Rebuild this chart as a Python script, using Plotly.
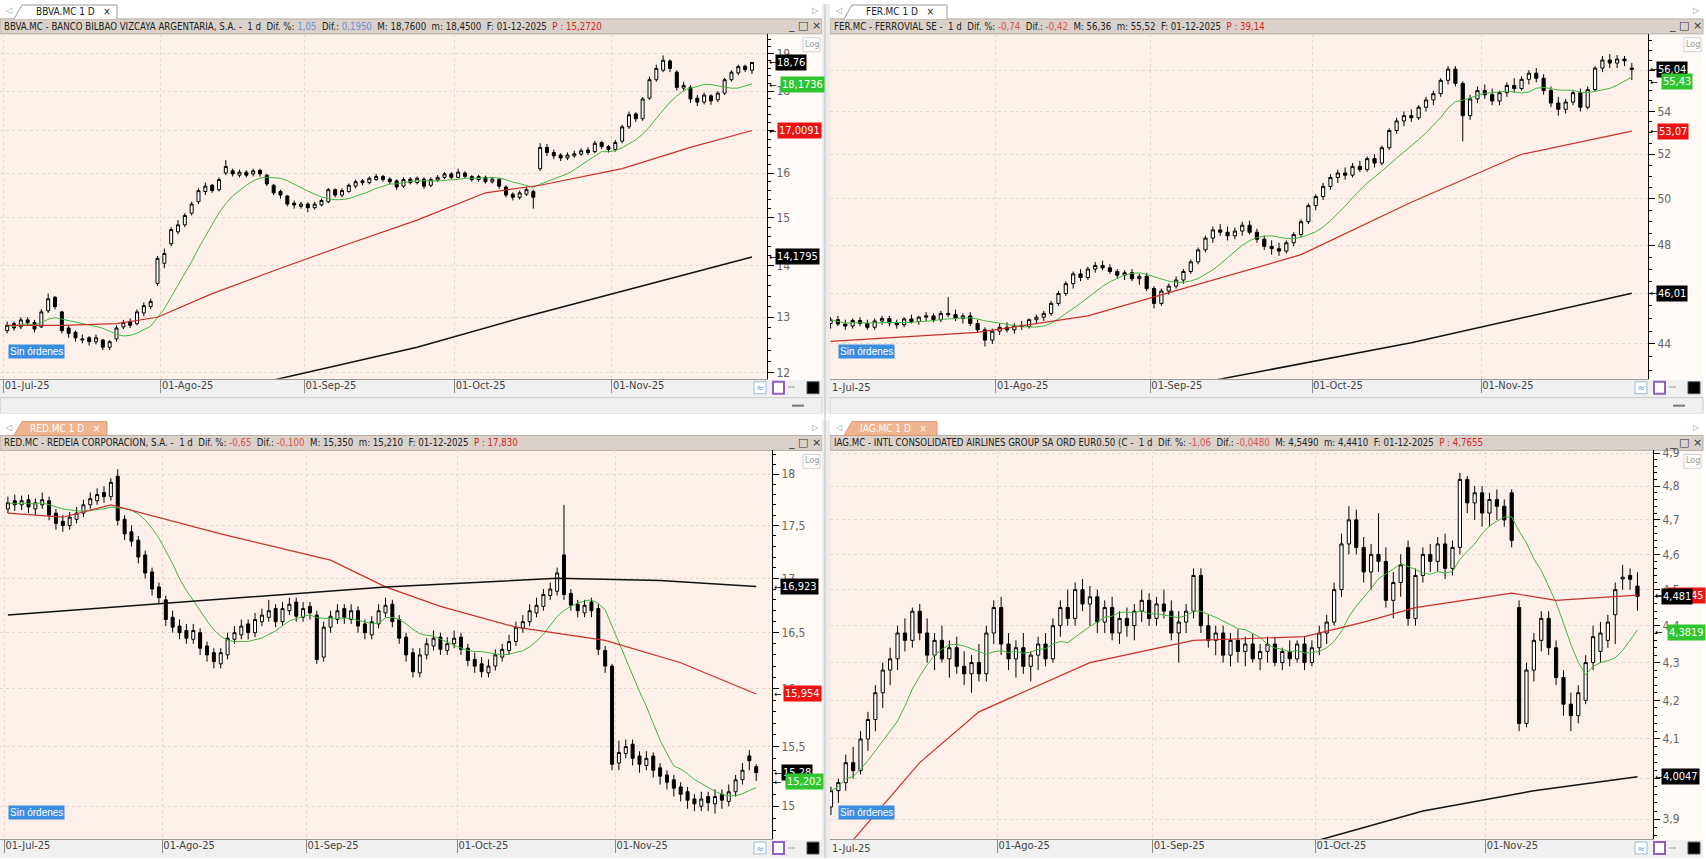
import math
import pandas as pd
import plotly.graph_objects as go

W, H = 1706, 859

# ---------------- data ----------------
trade_dates = pd.bdate_range("2025-07-01", "2025-12-01")
month_labels = ["01-Jul-25", "01-Ago-25", "01-Sep-25", "01-Oct-25", "01-Nov-25"]

bbva_open = [12.75,12.88,12.82,12.95,12.90,12.82,13.12,13.38,13.10,12.80,
             12.72,12.58,12.62,12.55,12.58,12.45,12.60,12.82,12.92,12.88,
             13.08,13.20,13.65,14.05,14.45,14.70,14.85,15.10,15.35,15.58,
             15.72,15.62,16.00,16.05,15.95,16.02,15.98,16.06,15.95,15.72,
             15.58,15.48,15.32,15.25,15.30,15.22,15.28,15.35,15.62,15.50,
             15.58,15.70,15.82,15.78,15.85,15.92,15.86,15.82,15.70,15.86,
             15.78,15.86,15.72,15.84,15.90,15.98,15.90,16.00,15.92,15.85,
             15.90,15.80,15.85,15.68,15.52,15.45,15.52,15.58,16.10,16.60,
             16.48,16.42,16.35,16.40,16.44,16.54,16.50,16.72,16.62,16.55,
             16.75,17.10,17.42,17.30,17.82,18.30,18.55,18.80,18.50,18.08,
             18.10,17.82,17.72,17.88,17.78,17.95,18.30,18.48,18.66,18.55]
bbva_high = [12.92,12.92,13.00,13.00,12.95,13.15,13.45,13.40,13.12,12.85,
             12.75,12.68,12.65,12.68,12.60,12.58,12.85,12.95,12.98,13.15,
             13.28,13.35,14.20,14.35,14.80,14.95,15.10,15.35,15.65,15.78,
             15.75,15.90,16.30,16.10,16.08,16.06,16.10,16.10,15.98,15.75,
             15.62,15.50,15.38,15.35,15.34,15.35,15.42,15.66,15.65,15.65,
             15.76,15.85,15.86,15.92,15.98,15.96,15.90,15.85,15.90,15.90,
             15.92,15.90,15.90,15.95,16.02,16.02,16.10,16.04,15.95,15.96,
             15.94,15.90,15.88,15.72,15.56,15.60,15.68,15.62,16.70,16.68,
             16.55,16.46,16.48,16.52,16.58,16.60,16.76,16.75,16.66,16.78,
             17.15,17.48,17.46,17.85,18.38,18.70,18.95,18.85,18.55,18.25,
             18.15,17.90,17.96,17.92,18.00,18.35,18.55,18.70,18.70,18.76]
bbva_low = [12.70,12.75,12.78,12.85,12.72,12.80,13.08,13.15,12.70,12.62,
            12.55,12.52,12.48,12.50,12.40,12.40,12.55,12.78,12.80,12.85,
            13.02,13.15,13.60,13.95,14.40,14.65,14.80,15.05,15.30,15.50,
            15.55,15.58,15.95,15.92,15.90,15.90,15.92,15.92,15.70,15.50,
            15.42,15.25,15.20,15.20,15.12,15.18,15.25,15.32,15.45,15.45,
            15.55,15.65,15.72,15.74,15.82,15.80,15.75,15.62,15.66,15.74,
            15.74,15.64,15.68,15.80,15.86,15.86,15.88,15.88,15.80,15.80,
            15.76,15.76,15.64,15.45,15.38,15.40,15.48,15.20,16.05,16.40,
            16.32,16.28,16.30,16.36,16.40,16.42,16.46,16.56,16.48,16.50,
            16.70,17.05,17.22,17.25,17.78,18.25,18.50,18.50,18.02,18.00,
            17.70,17.62,17.66,17.65,17.72,17.90,18.25,18.42,18.50,18.45]
bbva_close = [12.85,12.80,12.95,12.90,12.78,13.10,13.35,13.20,12.75,12.70,
              12.62,12.60,12.55,12.62,12.45,12.55,12.80,12.90,12.85,13.10,
              13.22,13.30,14.15,14.25,14.75,14.85,15.05,15.30,15.60,15.70,
              15.60,15.85,16.15,15.98,16.02,15.95,16.05,15.98,15.75,15.55,
              15.50,15.30,15.28,15.30,15.22,15.30,15.38,15.62,15.50,15.60,
              15.72,15.80,15.78,15.88,15.92,15.85,15.80,15.68,15.85,15.78,
              15.88,15.70,15.85,15.90,15.98,15.90,16.02,15.92,15.85,15.92,
              15.80,15.86,15.70,15.50,15.45,15.55,15.62,15.45,16.60,16.48,
              16.40,16.35,16.42,16.45,16.52,16.48,16.70,16.62,16.55,16.72,
              17.10,17.40,17.30,17.80,18.30,18.60,18.82,18.60,18.10,18.15,
              17.80,17.72,17.90,17.75,17.95,18.30,18.50,18.65,18.57,18.76]
bbva_ma50_idx = [0, 8, 16, 22, 30, 40, 50, 60, 70, 78, 90, 100, 109]
bbva_ma50_val = [12.85, 12.85, 12.88, 13.0, 13.45, 13.95, 14.45, 14.95, 15.55, 15.72, 16.1, 16.6, 17.0091]
bbva_ma200_idx = [38, 60, 75, 90, 109]
bbva_ma200_val = [11.85, 12.45, 12.98, 13.5, 14.1795]

fer_open = [44.80,44.95,44.78,44.70,44.92,44.80,44.65,44.90,45.00,44.82,
            44.75,44.98,44.88,45.05,45.10,44.95,45.20,45.15,45.00,45.10,
            44.80,44.55,44.15,44.50,44.65,44.55,44.72,44.68,44.95,45.05,
            45.20,45.60,46.00,46.40,46.80,46.65,47.00,47.15,47.05,46.90,
            46.75,46.85,46.60,46.70,46.20,45.60,46.10,46.30,46.55,46.90,
            47.30,47.80,48.30,48.65,48.55,48.40,48.60,48.85,48.55,48.25,
            47.95,47.85,47.75,48.10,48.45,49.00,49.70,50.10,50.55,50.95,
            51.15,51.05,51.45,51.30,51.80,51.60,52.30,53.10,53.55,53.80,
            53.70,54.20,54.55,54.85,55.50,56.05,55.35,53.80,54.60,55.00,
            54.80,54.50,54.90,55.25,55.10,55.55,55.85,55.60,55.00,54.40,
            54.10,54.45,54.90,54.20,55.05,56.10,56.50,56.35,56.55,56.10]
fer_high = [45.05,45.10,44.95,45.00,45.05,44.95,45.00,45.10,45.10,44.95,
            45.05,45.15,45.10,45.25,45.20,45.30,45.85,45.35,45.20,45.25,
            44.95,44.65,44.60,44.80,44.85,44.80,44.90,45.00,45.15,45.30,
            45.70,46.10,46.50,46.90,47.00,47.10,47.30,47.35,47.20,47.00,
            46.95,47.00,46.80,46.85,46.30,46.20,46.40,46.70,47.00,47.40,
            47.90,48.40,48.80,48.90,48.80,48.75,49.00,49.05,48.70,48.40,
            48.20,48.10,48.20,48.55,49.10,49.80,50.20,50.70,51.10,51.30,
            51.40,51.60,51.70,51.90,52.00,52.40,53.20,53.70,54.00,54.10,
            54.30,54.70,55.00,55.60,56.20,56.20,55.45,54.80,55.20,55.30,
            55.10,55.00,55.40,55.60,55.70,56.00,56.10,55.80,55.20,54.70,
            54.60,55.00,55.10,55.20,56.20,56.70,56.80,56.75,56.70,56.36]
fer_low = [44.60,44.70,44.55,44.60,44.70,44.55,44.55,44.75,44.70,44.60,
           44.65,44.80,44.75,44.90,44.85,44.85,45.05,44.90,44.80,44.70,
           44.45,43.90,44.00,44.35,44.45,44.40,44.55,44.60,44.80,44.90,
           45.10,45.50,45.90,46.20,46.50,46.55,46.85,46.95,46.80,46.60,
           46.55,46.50,46.35,46.10,45.40,45.50,45.95,46.20,46.40,46.80,
           47.20,47.70,48.10,48.40,48.20,48.25,48.40,48.45,48.10,47.80,
           47.60,47.55,47.65,47.95,48.35,48.90,49.50,49.95,50.40,50.70,
           50.85,50.95,51.20,51.20,51.40,51.50,52.20,52.95,53.30,53.50,
           53.60,54.00,54.30,54.70,55.30,55.20,52.60,53.60,54.40,54.60,
           54.30,54.30,54.70,54.90,55.00,55.30,55.40,54.80,54.20,53.80,
           53.90,54.30,54.00,54.10,54.95,55.90,56.10,56.10,56.20,55.52]
fer_close = [44.95,44.78,44.70,44.92,44.80,44.65,44.90,45.00,44.82,44.75,
             44.98,44.88,45.05,45.10,44.95,45.20,45.15,45.00,45.10,44.80,
             44.55,44.15,44.50,44.65,44.55,44.72,44.68,44.95,45.05,45.20,
             45.60,46.00,46.40,46.80,46.65,47.00,47.15,47.05,46.90,46.75,
             46.85,46.60,46.70,46.20,45.60,46.10,46.30,46.55,46.90,47.30,
             47.80,48.30,48.65,48.55,48.40,48.60,48.85,48.55,48.25,47.95,
             47.85,47.75,48.10,48.45,49.00,49.70,50.10,50.55,50.95,51.15,
             51.05,51.45,51.30,51.80,51.60,52.30,53.10,53.55,53.80,53.70,
             54.20,54.55,54.85,55.50,56.05,55.35,53.80,54.60,55.00,54.80,
             54.50,54.90,55.25,55.10,55.55,55.85,55.60,55.00,54.40,54.10,
             54.45,54.90,54.20,55.05,56.10,56.50,56.35,56.55,56.46,56.04]
fer_ma50_idx = [0, 20, 35, 49, 64, 79, 94, 109]
fer_ma50_val = [44.1, 44.45, 45.1, 46.3, 47.6, 49.85, 52.0, 53.07]
fer_ma200_idx = [50, 79, 109]
fer_ma200_val = [42.5, 44.05, 46.01]

red_open = [17.66,17.74,17.70,17.75,17.66,17.70,17.74,17.62,17.54,17.50,
            17.56,17.62,17.70,17.74,17.82,17.78,17.98,17.56,17.44,17.36,
            17.22,17.06,16.92,16.80,16.64,16.56,16.52,16.44,16.50,16.38,
            16.32,16.22,16.30,16.44,16.48,16.58,16.50,16.60,16.64,16.72,
            16.60,16.70,16.78,16.64,16.74,16.66,16.28,16.55,16.62,16.72,
            16.62,16.70,16.58,16.48,16.58,16.68,16.76,16.62,16.46,16.32,
            16.14,16.30,16.38,16.46,16.34,16.40,16.46,16.36,16.26,16.22,
            16.14,16.20,16.28,16.34,16.42,16.54,16.60,16.68,16.74,16.84,
            16.88,17.22,16.86,16.76,16.68,16.78,16.72,16.34,16.20,15.36,
            15.44,15.52,15.42,15.34,15.42,15.32,15.26,15.22,15.16,15.12,
            15.06,15.00,15.08,15.02,15.10,15.04,15.12,15.22,15.42,15.33]
red_high = [17.78,17.80,17.79,17.80,17.76,17.82,17.78,17.66,17.60,17.63,
            17.68,17.75,17.82,17.86,17.88,17.96,18.05,17.60,17.50,17.40,
            17.26,17.10,16.96,16.84,16.70,16.62,16.58,16.58,16.54,16.42,
            16.36,16.36,16.50,16.56,16.62,16.62,16.68,16.72,16.80,16.76,
            16.78,16.82,16.82,16.78,16.78,16.70,16.60,16.70,16.76,16.76,
            16.76,16.74,16.62,16.65,16.76,16.82,16.80,16.66,16.50,16.36,
            16.36,16.45,16.52,16.50,16.46,16.52,16.50,16.40,16.32,16.28,
            16.26,16.35,16.40,16.48,16.60,16.66,16.76,16.82,16.90,16.96,
            17.10,17.70,16.90,16.80,16.80,16.82,16.76,16.38,16.22,15.55,
            15.56,15.56,15.46,15.46,15.45,15.36,15.30,15.26,15.20,15.16,
            15.10,15.12,15.12,15.14,15.14,15.18,15.26,15.36,15.47,15.35]
red_low = [17.62,17.64,17.65,17.62,17.60,17.66,17.55,17.46,17.44,17.46,
           17.52,17.58,17.66,17.70,17.72,17.74,17.50,17.36,17.30,17.14,
           17.00,16.84,16.76,16.56,16.50,16.44,16.40,16.40,16.30,16.24,
           16.18,16.18,16.26,16.40,16.44,16.44,16.46,16.56,16.60,16.55,
           16.56,16.66,16.60,16.60,16.62,16.22,16.24,16.50,16.58,16.58,
           16.58,16.50,16.44,16.44,16.54,16.64,16.55,16.40,16.24,16.10,
           16.10,16.26,16.34,16.30,16.30,16.36,16.30,16.20,16.14,16.10,
           16.10,16.16,16.24,16.30,16.38,16.50,16.56,16.64,16.70,16.80,
           16.84,16.80,16.70,16.64,16.64,16.64,16.30,16.14,15.30,15.30,
           15.40,15.34,15.28,15.30,15.24,15.18,15.14,15.08,15.04,14.98,
           14.96,14.96,14.96,14.94,14.98,15.00,15.08,15.18,15.30,15.21]
red_close = [17.72,17.70,17.74,17.68,17.72,17.75,17.60,17.52,17.50,17.58,
             17.62,17.70,17.76,17.80,17.78,17.92,17.55,17.42,17.35,17.20,
             17.05,16.90,16.82,16.62,16.55,16.50,16.45,16.52,16.36,16.30,
             16.24,16.32,16.45,16.50,16.56,16.50,16.62,16.66,16.70,16.60,
             16.72,16.76,16.65,16.72,16.68,16.26,16.55,16.65,16.70,16.64,
             16.70,16.56,16.50,16.60,16.70,16.75,16.60,16.45,16.30,16.15,
             16.30,16.40,16.45,16.35,16.40,16.45,16.35,16.25,16.20,16.15,
             16.20,16.30,16.35,16.42,16.55,16.60,16.70,16.75,16.85,16.90,
             17.05,16.85,16.75,16.70,16.75,16.70,16.35,16.20,15.35,15.45,
             15.50,15.40,15.35,15.40,15.30,15.25,15.20,15.15,15.10,15.05,
             15.02,15.06,15.03,15.08,15.05,15.12,15.22,15.30,15.38,15.28]
red_ma50_idx = [0, 8, 15, 31, 47, 55, 63, 74, 87, 98, 109]
red_ma50_val = [17.62, 17.58, 17.7, 17.42, 17.17, 16.92, 16.74, 16.55, 16.43, 16.23, 15.954]
red_ma200_idx = [0, 30, 55, 80, 95, 109]
red_ma200_val = [16.66, 16.8, 16.92, 17.0, 16.98, 16.923]

iag_open = [3.93,3.97,3.99,4.04,4.02,4.10,4.15,4.22,4.28,4.31,
            4.38,4.36,4.44,4.38,4.32,4.36,4.31,4.34,4.29,4.27,
            4.30,4.27,4.38,4.45,4.35,4.31,4.34,4.29,4.32,4.35,
            4.31,4.40,4.45,4.42,4.50,4.46,4.48,4.41,4.45,4.38,
            4.42,4.40,4.44,4.47,4.42,4.46,4.44,4.38,4.41,4.44,
            4.54,4.40,4.36,4.38,4.32,4.36,4.33,4.35,4.31,4.33,
            4.35,4.30,4.33,4.31,4.35,4.30,4.34,4.38,4.41,4.50,
            4.63,4.70,4.62,4.55,4.60,4.58,4.47,4.52,4.62,4.42,
            4.54,4.60,4.58,4.63,4.56,4.62,4.82,4.75,4.78,4.72,
            4.76,4.74,4.78,4.45,4.14,4.28,4.36,4.42,4.34,4.26,
            4.19,4.16,4.20,4.30,4.33,4.36,4.43,4.53,4.54,4.51]
iag_high = [3.98,4.00,4.06,4.08,4.12,4.17,4.24,4.30,4.34,4.40,
            4.42,4.45,4.46,4.42,4.38,4.40,4.36,4.37,4.33,4.32,
            4.35,4.40,4.47,4.48,4.38,4.36,4.38,4.33,4.37,4.38,
            4.42,4.47,4.50,4.52,4.53,4.51,4.50,4.47,4.48,4.44,
            4.45,4.46,4.50,4.49,4.48,4.50,4.47,4.44,4.46,4.56,
            4.56,4.43,4.40,4.40,4.38,4.39,4.37,4.38,4.35,4.37,
            4.37,4.34,4.36,4.36,4.37,4.36,4.40,4.43,4.52,4.66,
            4.74,4.73,4.65,4.63,4.72,4.62,4.55,4.60,4.64,4.56,
            4.62,4.63,4.65,4.66,4.64,4.84,4.83,4.80,4.80,4.78,
            4.79,4.76,4.79,4.47,4.30,4.38,4.44,4.44,4.36,4.28,
            4.22,4.24,4.32,4.40,4.41,4.43,4.52,4.57,4.56,4.549]
iag_low = [3.91,3.94,3.97,4.00,4.01,4.07,4.12,4.18,4.24,4.28,
           4.33,4.34,4.36,4.30,4.28,4.30,4.26,4.27,4.24,4.22,
           4.25,4.25,4.35,4.32,4.28,4.26,4.27,4.25,4.28,4.29,
           4.30,4.37,4.40,4.40,4.44,4.40,4.38,4.38,4.36,4.35,
           4.37,4.36,4.41,4.40,4.40,4.42,4.36,4.30,4.38,4.42,
           4.38,4.34,4.32,4.30,4.29,4.30,4.29,4.30,4.28,4.30,
           4.29,4.28,4.29,4.30,4.28,4.29,4.32,4.35,4.40,4.48,
           4.60,4.60,4.52,4.50,4.55,4.45,4.42,4.48,4.40,4.40,
           4.52,4.55,4.55,4.53,4.54,4.60,4.72,4.70,4.68,4.68,
           4.70,4.68,4.62,4.12,4.13,4.25,4.33,4.32,4.24,4.16,
           4.12,4.14,4.19,4.28,4.30,4.34,4.35,4.50,4.50,4.441]
iag_close = [3.97,3.99,4.04,4.02,4.10,4.15,4.22,4.28,4.31,4.38,
             4.36,4.44,4.38,4.32,4.36,4.31,4.34,4.29,4.27,4.30,
             4.27,4.38,4.45,4.35,4.31,4.34,4.29,4.32,4.35,4.31,
             4.40,4.45,4.42,4.50,4.46,4.48,4.41,4.45,4.38,4.42,
             4.40,4.44,4.47,4.42,4.46,4.44,4.38,4.41,4.44,4.54,
             4.40,4.36,4.38,4.32,4.36,4.33,4.35,4.31,4.33,4.35,
             4.30,4.33,4.31,4.35,4.30,4.34,4.38,4.41,4.50,4.63,
             4.70,4.62,4.55,4.60,4.58,4.47,4.52,4.57,4.42,4.54,
             4.60,4.58,4.63,4.56,4.62,4.82,4.75,4.78,4.72,4.76,
             4.74,4.70,4.64,4.14,4.28,4.36,4.42,4.34,4.26,4.19,
             4.16,4.22,4.30,4.37,4.38,4.41,4.50,4.535,4.529,4.481]
iag_ma50_idx = [0, 3, 12, 20, 35, 49, 64, 72, 79, 92, 98, 109]
iag_ma50_val = [3.80, 3.85, 4.04, 4.17, 4.30, 4.36, 4.37, 4.41, 4.45, 4.49, 4.47, 4.4845]
iag_ma200_idx = [64, 80, 95, 109]
iag_ma200_val = [3.84, 3.92, 3.97, 4.0047]

# ---------------- helpers ----------------
def px(x):
    return x / W

def py(y):
    return 1 - y / H

shapes, annotations = [], []
FONT = "Liberation Sans Narrow, DejaVu Sans Condensed, Arial Narrow, sans-serif"

def rect(x0, y0, x1, y1, fill, line=None, lw=1, layer="below"):
    shapes.append(dict(type="rect", xref="paper", yref="paper",
                       x0=px(x0), x1=px(x1), y0=py(y1), y1=py(y0),
                       fillcolor=fill, layer=layer,
                       line=dict(color=line if line else fill, width=lw if line else 0)))

def hline(x0, x1, y, color, lw=1):
    shapes.append(dict(type="line", xref="paper", yref="paper", x0=px(x0), x1=px(x1),
                       y0=py(y), y1=py(y), line=dict(color=color, width=lw), layer="above"))

def vline(x, y0, y1, color, lw=1):
    shapes.append(dict(type="line", xref="paper", yref="paper", x0=px(x), x1=px(x),
                       y0=py(y0), y1=py(y1), line=dict(color=color, width=lw), layer="above"))

def text(x, y, s, size=11, color="#222", xanchor="left", bg=None, font=FONT):
    a = dict(xref="paper", yref="paper", x=px(x), y=py(y), text=s, showarrow=False,
             xanchor=xanchor, yanchor="middle", font=dict(size=size, color=color, family=font))
    if bg:
        a["bgcolor"] = bg
    annotations.append(a)

# month ticks sit on the left edge of the first session of each month
month_idx = []
for m in [7, 8, 9, 10, 11]:
    month_idx.append(next(i for i, d in enumerate(trade_dates) if d.month == m) - 0.5)

panels = [
    dict(name="BBVA", o=bbva_open, h=bbva_high, l=bbva_low, c=bbva_close,
         m50=(bbva_ma50_idx, bbva_ma50_val), m200=(bbva_ma200_idx, bbva_ma200_val),
         box=(0, 30, 767, 377), ax_end=822, xr=[-1.05, 111.2], yr=(11.897, 19.55),
         major=[12, 13, 14, 15, 16, 17, 18, 19], minor_step=0.2,
         tab="BBVA.MC 1 D", tab_active=False,
         title=("BBVA.MC - BANCO BILBAO VIZCAYA ARGENTARIA, S.A. -&nbsp;&nbsp;1 d&nbsp;&nbsp;Dif. %: <span style='color:#6b8fd6'>1,05</span>&nbsp;&nbsp;"
                "Dif.: <span style='color:#6b8fd6'>0,1950</span>&nbsp;&nbsp;M: 18,7600&nbsp;&nbsp;m: 18,4500&nbsp;&nbsp;F: 01-12-2025&nbsp;&nbsp;"
                "<span style='color:#e02020'>P : 15,2720</span>"),
         labels=[("18,76", 18.76, "#000000", 775), ("18,1736", 18.1736, "#2ec52e", 780),
                 ("17,0091", 17.0091, "#ee1111", 777), ("14,1795", 14.1795, "#000000", 775)]),
    dict(name="FER", o=fer_open, h=fer_high, l=fer_low, c=fer_close,
         m50=(fer_ma50_idx, fer_ma50_val), m200=(fer_ma200_idx, fer_ma200_val),
         box=(830, 30, 1648, 377), ax_end=1703, xr=[-0.08, 111.2], yr=(42.67, 57.82),
         major=[44, 46, 48, 50, 52, 54, 56], minor_step=0.5,
         tab="FER.MC 1 D", tab_active=False,
         title=("FER.MC - FERROVIAL SE -&nbsp;&nbsp;1 d&nbsp;&nbsp;Dif. %: <span style='color:#e05050'>-0,74</span>&nbsp;&nbsp;"
                "Dif.: <span style='color:#e05050'>-0,42</span>&nbsp;&nbsp;M: 56,36&nbsp;&nbsp;m: 55,52&nbsp;&nbsp;F: 01-12-2025&nbsp;&nbsp;"
                "<span style='color:#e02020'>P : 39,14</span>"),
         labels=[("56,04", 56.04, "#000000", 1656), ("55,43", 55.43, "#2ec52e", 1661),
                 ("53,07", 53.07, "#ee1111", 1657), ("46,01", 46.01, "#000000", 1656)]),
    dict(name="RED", o=red_open, h=red_high, l=red_low, c=red_close,
         m50=(red_ma50_idx, red_ma50_val), m200=(red_ma200_idx, red_ma200_val),
         box=(0, 449, 772, 840), ax_end=822, xr=[-1.15, 111.3], yr=(14.732, 18.237),
         major=[15, 15.5, 16, 16.5, 17, 17.5, 18], minor_step=0.1,
         tab="RED.MC 1 D", tab_active=True,
         title=("RED.MC - REDEIA CORPORACION, S.A. -&nbsp;&nbsp;1 d&nbsp;&nbsp;Dif. %: <span style='color:#e05050'>-0,65</span>&nbsp;&nbsp;"
                "Dif.: <span style='color:#e05050'>-0,100</span>&nbsp;&nbsp;M: 15,350&nbsp;&nbsp;m: 15,210&nbsp;&nbsp;F: 01-12-2025&nbsp;&nbsp;"
                "<span style='color:#e02020'>P : 17,830</span>"),
         labels=[("16,923", 16.923, "#000000", 780), ("15,954", 15.954, "#ee1111", 783),
                 ("15,28", 15.28, "#000000", 781), ("15,202", 15.202, "#2ec52e", 785)]),
    dict(name="IAG", o=iag_open, h=iag_high, l=iag_low, c=iag_close,
         m50=(iag_ma50_idx, iag_ma50_val), m200=(iag_ma200_idx, iag_ma200_val),
         box=(830, 449, 1653, 840), ax_end=1703, xr=[-0.13, 111.1], yr=(3.852, 4.908),
         major=[3.9, 4.0, 4.1, 4.2, 4.3, 4.4, 4.5, 4.6, 4.7, 4.8, 4.9], minor_step=0.02,
         tab="IAG.MC 1 D", tab_active=True,
         title=("IAG.MC - INTL CONSOLIDATED AIRLINES GROUP SA ORD EUR0.50 (C -&nbsp;&nbsp;1 d&nbsp;&nbsp;Dif. %: <span style='color:#e05050'>-1,06</span>&nbsp;&nbsp;"
                "Dif.: <span style='color:#e05050'>-0,0480</span>&nbsp;&nbsp;M: 4,5490&nbsp;&nbsp;m: 4,4410&nbsp;&nbsp;F: 01-12-2025&nbsp;&nbsp;"
                "<span style='color:#e02020'>P : 4,7655</span>"),
         labels=[("4,4845", 4.4845, "#ee1111", 1667), ("4,481", 4.481, "#000000", 1661),
                 ("4,3819", 4.3819, "#2ec52e", 1667), ("4,0047", 4.0047, "#000000", 1661)]),
]

fig = go.Figure()
layout = dict(width=W, height=H, margin=dict(l=0, r=0, t=0, b=0, pad=0),
              paper_bgcolor="#ffffff", plot_bgcolor="#fcf0e8", showlegend=False,
              boxgap=0.38)

def fmt(v):
    return ("%g" % v).replace(".", ",")

for k, p in enumerate(panels, start=1):
    xa = "x" if k == 1 else "x%d" % k
    ya = "y" if k == 1 else "y%d" % k
    x0, y0, x1, y1 = p["box"]
    xs = list(range(len(p["c"])))
    fig.add_trace(go.Candlestick(
        x=xs, open=p["o"], high=p["h"], low=p["l"], close=p["c"],
        increasing=dict(fillcolor="#ffffff", line=dict(color="#000000", width=1)),
        decreasing=dict(fillcolor="#000000", line=dict(color="#000000", width=1)),
        whiskerwidth=0, xaxis=xa, yaxis=ya, hoverinfo="skip"))
    ma10 = pd.Series(p["c"]).rolling(10, min_periods=1).mean().tolist()
    fig.add_trace(go.Scatter(x=xs, y=ma10, mode="lines", line=dict(color="#3fb83f", width=1),
                             xaxis=xa, yaxis=ya, hoverinfo="skip"))
    fig.add_trace(go.Scatter(x=p["m50"][0], y=p["m50"][1], mode="lines",
                             line=dict(color="#c8302c", width=1.2), xaxis=xa, yaxis=ya, hoverinfo="skip"))
    fig.add_trace(go.Scatter(x=p["m200"][0], y=p["m200"][1], mode="lines",
                             line=dict(color="#111111", width=1.5), xaxis=xa, yaxis=ya, hoverinfo="skip"))

    lo, hi = p["yr"]
    minors = []
    v = math.ceil(lo / p["minor_step"]) * p["minor_step"]
    while v < hi:
        minors.append(round(v, 4))
        v += p["minor_step"]
    xkey = "xaxis" if k == 1 else "xaxis%d" % k
    ykey = "yaxis" if k == 1 else "yaxis%d" % k
    layout[xkey] = dict(domain=[px(x0), px(x1)], anchor=ya, range=p["xr"],
                        tickvals=month_idx, ticktext=month_labels, ticks="outside",
                        ticklen=13, tickcolor="#8a8a8a", tickwidth=1,
                        ticklabelposition="outside right", ticklabelstandoff=-4,
                        tickfont=dict(size=11, color="#444444", family=FONT),
                        showgrid=True, gridcolor="#e8d6cc", griddash="dot", gridwidth=1,
                        zeroline=False, showline=True, linecolor="#9a9a9a", linewidth=1,
                        rangeslider=dict(visible=False), fixedrange=True)
    layout[ykey] = dict(domain=[py(y1), py(y0)], anchor=xa, side="right", type="log",
                        range=[math.log10(lo), math.log10(hi)],
                        tickvals=p["major"], ticktext=[fmt(t) for t in p["major"]],
                        ticks="outside", ticklen=6, tickcolor="#000000", tickwidth=1,
                        tickfont=dict(size=12, color="#666666", family=FONT),
                        showline=True, linecolor="#000000", linewidth=1,
                        showgrid=True, gridcolor="#e8d6cc", griddash="dot", gridwidth=1,
                        zeroline=False, fixedrange=True,
                        minor=dict(tickvals=minors, ticks="outside", ticklen=3,
                                   tickcolor="#000000", showgrid=False))

    # ---- chrome around each panel ----
    tab_top = y0 - 30
    head_top = y0 - 15
    rect(x1 + 1, y0, p["ax_end"], y1, "#fffaf6")
    rect(x0, head_top, p["ax_end"], y0, "#dad2ca", line="#b5aca4")
    text(x0 + 2, head_top + 7.5, p["title"], size=9.6, color="#222222")
    text(p["ax_end"] - 36, head_top + 7, "_ □ ×", size=11, color="#333333", font="DejaVu Sans")
    tx = x0 + 22
    if p["tab_active"]:
        shapes.append(dict(type="path", xref="paper", yref="paper",
                           path="M %f %f L %f %f L %f %f L %f %f Z" % (
                               px(tx - 8), py(head_top), px(tx), py(tab_top + 1),
                               px(tx + 85), py(tab_top + 1), px(tx + 85), py(head_top)),
                           fillcolor="#f0b48e", line=dict(color="#d89a78", width=1), layer="above"))
        text(tx + 6, tab_top + 8, p["tab"] + "&nbsp;&nbsp;&nbsp;×", size=10, color="#ffffff")
    else:
        shapes.append(dict(type="path", xref="paper", yref="paper",
                           path="M %f %f L %f %f L %f %f L %f %f" % (
                               px(tx - 8), py(head_top), px(tx), py(tab_top + 1),
                               px(tx + 95), py(tab_top + 1), px(tx + 95), py(head_top)),
                           fillcolor="#ffffff", line=dict(color="#9a9a9a", width=1), layer="above"))
        text(tx + 12, tab_top + 8, p["tab"] + "&nbsp;&nbsp;&nbsp;×", size=10, color="#222222")
    text(x0 + 3, tab_top + 7, "◁", size=8, color="#9a9a9a", font="DejaVu Sans")
    text(p["ax_end"] - 12, tab_top + 7, "▷", size=8, color="#9a9a9a", font="DejaVu Sans")
    rect(x0, y1 + 1, p["ax_end"], y1 + 19, "#f0f0f0")
    if k <= 2:
        rect(x0, y1 + 19, p["ax_end"], y1 + 35, "#f0f0f0", line="#c8c8c8")
        hline(p["ax_end"] - 30, p["ax_end"] - 18, y1 + 27, "#777777", 2)
    if x0 > 0:
        # first month label is partly hidden behind the panel's left edge
        text(x0, y1 + 9, "1-Jul-25", size=11, color="#444444")
    rect(p["ax_end"] - 19, y0 + 4, p["ax_end"] - 2, y0 + 18, "#ffffff", line="#d0d0d0", layer="above")
    text(p["ax_end"] - 10.5, y0 + 10, "Log", size=9, color="#9a9a9a", xanchor="center")
    ib = y1 + 3
    rect(p["ax_end"] - 68, ib, p["ax_end"] - 56, ib + 12, "#ffffff", line="#9ab8d8", layer="above")
    text(p["ax_end"] - 62, ib + 6, "≈", size=10, color="#6aa0d0", xanchor="center", font="DejaVu Sans")
    rect(p["ax_end"] - 49, ib, p["ax_end"] - 38, ib + 12, "#ffffff", line="#9060c0", lw=2, layer="above")
    text(p["ax_end"] - 31, ib + 6, "ꟷ", size=8, color="#777777", xanchor="center", font="DejaVu Sans")
    rect(p["ax_end"] - 15, ib, p["ax_end"] - 3, ib + 12, "#000000", line="#555555", layer="above")
    ax0 = x0 + 8
    text(ax0, y1 - 27, "Sin órdenes", size=10, color="#ffffff", bg="#3a8ee0",
         font="Liberation Sans, Arial, sans-serif")
    for (s, val, col, lx) in p["labels"]:
        annotations.append(dict(xref="paper", yref=ya, x=px(lx), y=math.log10(val),
                                text=s, showarrow=False, xanchor="left", yanchor="middle",
                                font=dict(size=11, color="#ffffff", family=FONT),
                                bgcolor=col, borderpad=1))
        annotations.append(dict(xref="paper", yref=ya, x=px(x1), y=math.log10(val),
                                text="←", showarrow=False, xanchor="left", yanchor="middle",
                                font=dict(size=9, color="#000000", family="DejaVu Sans")))

rect(822, 0, 830, 859, "#ececec")
vline(825, 0, 859, "#c0c0c0")
rect(0, 412, 1706, 419, "#ffffff")

layout["shapes"] = shapes
layout["annotations"] = annotations
fig.update_layout(**layout)
fig.write_html("out.html", config={"displayModeBar": False},
               post_script="document.body.style.margin='0px';")
